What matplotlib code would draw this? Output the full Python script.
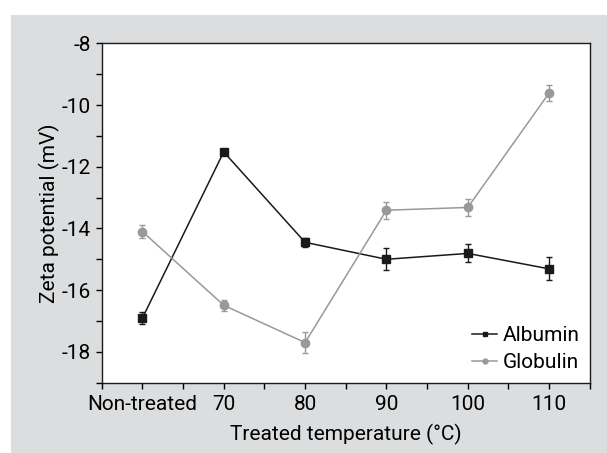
import matplotlib
matplotlib.use('Agg')
import matplotlib.pyplot as plt
from matplotlib.patches import Rectangle
from matplotlib.lines import Line2D
from matplotlib.ticker import MultipleLocator
import numpy as np

plt.rcParams['font.family'] = ['Roboto', 'Liberation Sans', 'DejaVu Sans']
plt.rcParams['axes.unicode_minus'] = False

categorias = ['Non-treated', '70', '80', '90', '100', '110']
albumin = [-16.91, -11.52, -14.45, -15.0, -14.81, -15.31]
albumin_err = [0.2, 0.08, 0.15, 0.36, 0.29, 0.37]
globulin = [-14.1, -16.49, -17.7, -13.41, -13.32, -9.61]
globulin_err = [0.22, 0.18, 0.33, 0.27, 0.28, 0.25]

cor_alb = '#1a1a1a'
cor_glob = '#999999'

fig = plt.figure(figsize=(6.07, 4.53), dpi=100, facecolor='white')
# fundo cinza com margem branca em cima e na esquerda
fundo = Rectangle((11 / 607, 0), 1, 1 - 15 / 453, transform=fig.transFigure,
                  facecolor='#dcddde', edgecolor='none', zorder=-10)
fig.patches.append(fundo)

ax = fig.add_axes([0.1675, 0.1552, 0.9717 - 0.1675, 0.9044 - 0.1552])
ax.set_facecolor('white')

x = np.arange(len(categorias))
ax.errorbar(x, albumin, yerr=albumin_err, color=cor_alb, marker='s', markersize=6.3,
            linewidth=1.1, elinewidth=1, capsize=2.5, capthick=1)
ax.errorbar(x, globulin, yerr=globulin_err, color=cor_glob, marker='o', markersize=6,
            linewidth=1.1, elinewidth=1, capsize=2.5, capthick=1)

ax.set_xlim(-0.5, 5.5)
ax.set_ylim(-19, -8)
ax.set_xticks(x)
ax.set_xticklabels(categorias)
ax.xaxis.set_minor_locator(MultipleLocator(0.5))
ax.yaxis.set_major_locator(MultipleLocator(2))
ax.yaxis.set_minor_locator(MultipleLocator(1))
ax.tick_params(which='both', direction='out', length=4, width=1, labelsize=15, pad=4)
ax.tick_params(axis='x', pad=5)
ax.tick_params(top=False, right=False)
for s in ax.spines.values():
    s.set_linewidth(1)
    s.set_color('#1a1a1a')

ax.set_xlabel('Treated temperature (°C)', fontsize=15, labelpad=7)
ax.set_ylabel('Zeta potential (mV)', fontsize=15, labelpad=1)

handles = [Line2D([], [], color=cor_alb, marker='s', markersize=3.5, linewidth=1.1),
           Line2D([], [], color=cor_glob, marker='o', markersize=3.5, linewidth=1.1)]
ax.legend(handles, ['Albumin', 'Globulin'], loc='lower right', frameon=False, fontsize=15,
          handlelength=1.2, handletextpad=0.25, labelspacing=0.4, borderaxespad=0.1)

fig.savefig('out.png', dpi=100, facecolor=fig.get_facecolor())
